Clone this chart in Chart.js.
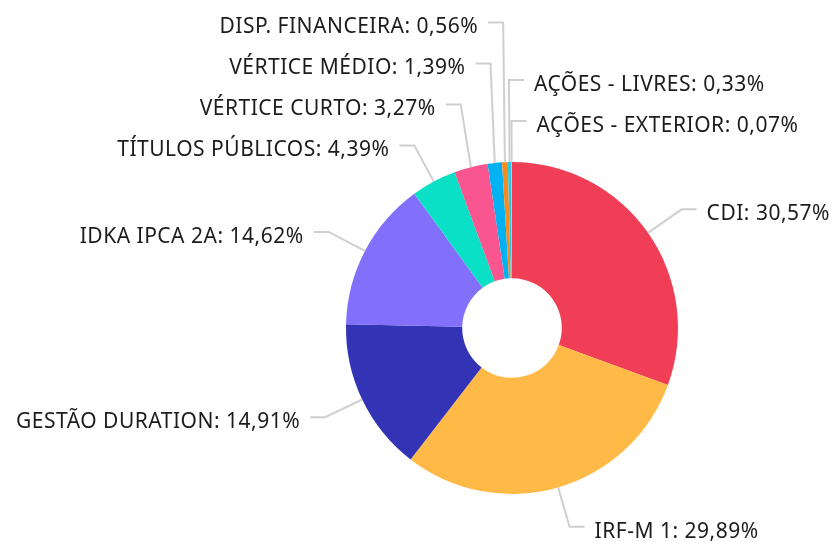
<!DOCTYPE html>
<html>
<head>
<meta charset="utf-8">
<script src="https://cdn.jsdelivr.net/npm/chart.js@4"></script>
<style>
    html, body { margin: 0; padding: 0; background: #fff; }
    #grafico { display: block; }
</style>
</head>
<body>
<canvas id="grafico" width="832" height="542"></canvas>
<script>
// Dados da carteira
const categorias = [
    'CDI',
    'IRF-M 1',
    'GESTÃO DURATION',
    'IDKA IPCA 2A',
    'TÍTULOS PÚBLICOS',
    'VÉRTICE CURTO',
    'VÉRTICE MÉDIO',
    'DISP. FINANCEIRA',
    'AÇÕES - LIVRES',
    'AÇÕES - EXTERIOR'
];
const percentuais = [30.57, 29.89, 14.91, 14.62, 4.39, 3.27, 1.39, 0.56, 0.33, 0.07];
const cores = [
    '#ef3e55', // CDI
    '#ffb946', // IRF-M 1
    '#3333b6', // Gestão duration
    '#8370fa', // IDKA
    '#0ae0c5', // Títulos públicos
    '#f9558f', // Vértice curto
    '#00b2f1', // Vértice médio
    '#f68b20', // Disp. financeira
    '#28c7e6', // Ações livres
    '#7fd6ea'  // Ações exterior
];

// Plugin simples para os rótulos externos com linha guia
const rotulosExternos = {
    id: 'rotulosExternos',
    afterDraw(chart) {
        const ctx = chart.ctx;
        const meta = chart.getDatasetMeta(0);
        const afastamento = 41;   // distância do arco até a dobra
        const horizontal = 15;    // trecho horizontal da linha
        const folga = 10;         // espaço até o texto
        const espacamento = 41;   // distância mínima entre rótulos

        const itens = meta.data.map((arc, i) => {
            const p = arc.getProps(['x', 'y', 'startAngle', 'endAngle', 'outerRadius'], true);
            const meio = (p.startAngle + p.endAngle) / 2;
            const cos = Math.cos(meio), sin = Math.sin(meio);
            // ângulo em graus a partir do topo, sentido horário, em (-180, 180]
            let graus = (meio + Math.PI / 2) * 180 / Math.PI;
            while (graus > 180) graus -= 360;
            return {
                texto: `${categorias[i]}: ${percentuais[i].toFixed(2).replace('.', ',')}%`,
                ax: p.x + cos * p.outerRadius,
                ay: p.y + sin * p.outerRadius,
                bx: p.x + cos * (p.outerRadius + afastamento),
                by: p.y + sin * (p.outerRadius + afastamento),
                direita: cos * p.outerRadius > -4,
                graus
            };
        });

        // Lado direito: de cima para baixo em ângulo crescente
        const direita = itens.filter(it => it.direita).sort((a, b) => a.graus - b.graus);
        // Lado esquerdo: de cima para baixo em ângulo decrescente (0..360)
        const norm = g => (g < 0 ? g + 360 : g);
        const esquerda = itens.filter(it => !it.direita).sort((a, b) => norm(b.graus) - norm(a.graus));

        [direita, esquerda].forEach(lado => {
            for (let i = lado.length - 2; i >= 0; i--) {
                lado[i].by = Math.min(lado[i].by, lado[i + 1].by - espacamento);
            }
        });

        ctx.save();
        ctx.lineWidth = 2;
        ctx.strokeStyle = '#cfcfcf';
        ctx.fillStyle = '#1c1c1c';
        ctx.font = '21px "Noto Sans"';
        ctx.letterSpacing = '0.5px';
        ctx.textBaseline = 'alphabetic';
        itens.forEach(it => {
            const sinal = it.direita ? 1 : -1;
            const fimX = it.bx + sinal * horizontal;
            ctx.beginPath();
            ctx.moveTo(it.ax, it.ay);
            ctx.lineTo(it.bx, it.by);
            ctx.lineTo(fimX, it.by);
            ctx.stroke();
            ctx.textAlign = it.direita ? 'left' : 'right';
            ctx.fillText(it.texto, fimX + sinal * folga, it.by + 11);
        });
        ctx.restore();
    }
};

new Chart(document.getElementById('grafico').getContext('2d'), {
    type: 'doughnut',
    data: {
        labels: categorias,
        datasets: [{
            data: percentuais,
            backgroundColor: cores,
            borderWidth: 0
        }]
    },
    options: {
        responsive: false,
        animation: false,
        cutout: '30%',
        layout: {
            padding: { left: 346, right: 154, top: 162, bottom: 48 }
        },
        plugins: {
            legend: { display: false },
            tooltip: { enabled: false }
        }
    },
    plugins: [rotulosExternos]
});
</script>
</body>
</html>
